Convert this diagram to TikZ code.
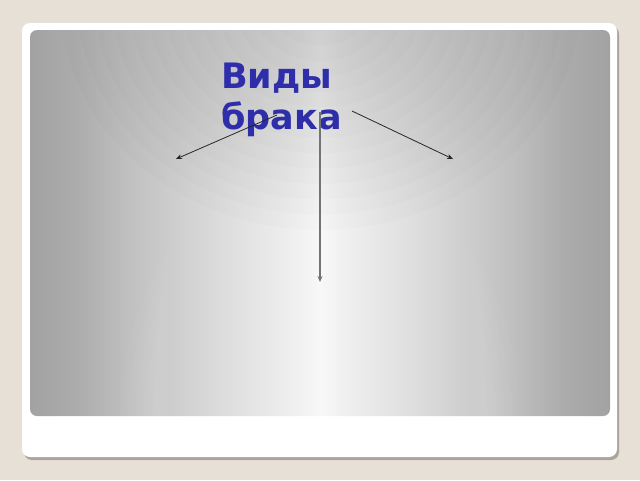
\documentclass[tikz,border=0pt]{standalone}
\usepackage{fontspec}
\newfontfamily\titlefont{DejaVu Sans}
\usetikzlibrary{arrows.meta}
\definecolor{bgc}{HTML}{E6E0D6}
\definecolor{shadowc}{HTML}{A9A59D}
\definecolor{titlec}{HTML}{2E2EAA}
\definecolor{gA}{HTML}{A2A2A2}
\definecolor{gB}{HTML}{ACACAC}
\definecolor{gC}{HTML}{C0C0C0}
\definecolor{gD}{HTML}{DEDEDE}
\definecolor{gE}{HTML}{F0F0F0}
\definecolor{gF}{HTML}{F8F8F8}
\pgfdeclarehorizontalshading{panelshade}{100bp}{%
  color(0bp)=(gA); color(25bp)=(gA); color(29bp)=(gB); color(33.5bp)=(gC); color(42bp)=(gD); color(48bp)=(gE); color(50bp)=(gF);
  color(52bp)=(gE); color(58bp)=(gD); color(66.5bp)=(gC); color(71bp)=(gB); color(75bp)=(gA); color(100bp)=(gA)}
\tikzset{
  arr/.style={draw=black!85, line width=0.8pt, -{Stealth[length=6pt,width=5pt]}},
  varr/.style={draw=black!55, line width=1.2pt, -{Stealth[length=6pt,width=5pt]}},
  titlestyle/.style={text=titlec, font=\titlefont\bfseries\fontsize{35pt}{41pt}\selectfont, align=left, inner sep=0pt, anchor=north west},
  darklayer/.style={fill=black, opacity=0.01},
  glowlayer/.style={fill=white, opacity=0.02}
}
\begin{document}
\begin{tikzpicture}[x=1pt,y=-1pt]
\useasboundingbox (0,0) rectangle (640,480);
\fill[bgc] (0,0) rectangle (640,480);
\fill[shadowc, rounded corners=8pt] (24,26) rectangle (619,460);
\fill[white, rounded corners=8pt] (22,23) rectangle (617,457);
\shade[shading=panelshade, rounded corners=7pt] (30,30) rectangle (610,416);
\begin{scope}
\clip[rounded corners=7pt] (30,30) rectangle (610,416);
\foreach \k in {1,...,15}{
  \path[darklayer] (320,0) ellipse [x radius={260*\k/15}, y radius={230*\k/15}];
}
\foreach \k in {1,...,25}{
  \path[glowlayer] (320,420) ellipse [x radius={200*\k/25}, y radius={260*\k/25}];
}
\end{scope}
\node[titlestyle] (title) at (221,63) {Виды\\брака};
\coordinate (l0) at (277,115);
\coordinate (l1) at (176,159);
\coordinate (r0) at (352,111);
\coordinate (r1) at (453,159);
\coordinate (v0) at (320,112);
\coordinate (v1) at (320,282);
\draw[arr] (l0) -- (l1);
\draw[arr] (r0) -- (r1);
\draw[varr] (v0) -- (v1);
\end{tikzpicture}
\end{document}
